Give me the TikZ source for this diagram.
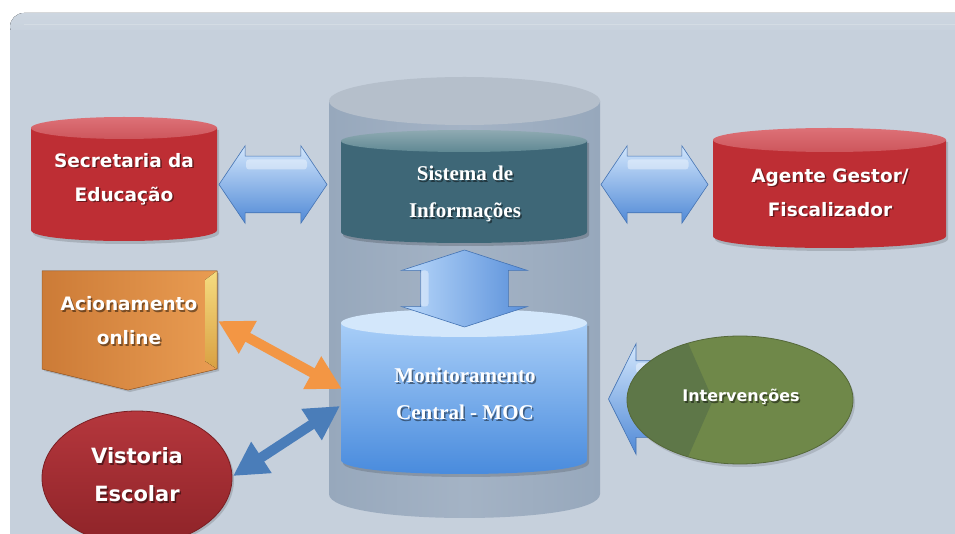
\documentclass[tikz,border=0pt]{standalone}
\usepackage{fontspec}
\newfontfamily\vfont{DejaVu Sans}
\newfontfamily\tfont{Liberation Serif}
\usetikzlibrary{shapes.arrows,arrows.meta,calc}
\definecolor{bgc}{HTML}{C6D0DC}
\definecolor{bgtop}{HTML}{CDD6E0}
\definecolor{bigbody}{HTML}{A4B3C5}
\definecolor{bigside}{HTML}{97A8BC}
\definecolor{bigtop}{HTML}{B5BFCB}
\definecolor{tealbody}{HTML}{3E6777}
\definecolor{tealtopA}{HTML}{8FAAB2}
\definecolor{tealtopB}{HTML}{5F8893}
\definecolor{redbody}{HTML}{BE2E34}
\definecolor{redtopA}{HTML}{DD7177}
\definecolor{redtopB}{HTML}{CD565C}
\definecolor{moctop}{HTML}{D3E7FB}
\definecolor{mocA}{HTML}{A8CEF8}
\definecolor{mocB}{HTML}{4689DC}
\definecolor{arrA}{HTML}{D2E6FC}
\definecolor{arrB}{HTML}{5089D6}
\definecolor{arrVL}{HTML}{B9D8FA}
\definecolor{arrVR}{HTML}{5A90DA}
\definecolor{arrline}{HTML}{4473B3}
\definecolor{oraA}{HTML}{CC7B37}
\definecolor{oraB}{HTML}{E99C52}
\definecolor{bevA}{HTML}{F5DC80}
\definecolor{bevB}{HTML}{D9A042}
\definecolor{visA}{HTML}{B5373D}
\definecolor{visB}{HTML}{8E2328}
\definecolor{visline}{HTML}{7A1E22}
\definecolor{grnL}{HTML}{6F8849}
\definecolor{grnD}{HTML}{5E7748}
\definecolor{grnline}{HTML}{55683A}
\definecolor{orarrow}{HTML}{F39644}
\definecolor{bluarrow}{HTML}{4A7DB9}
\newcommand\mycyl[7]{%
  \path[#6] (#1,#3) -- (#1,#4) .. controls (#1,#4+1.333*#5) and (#2,#4+1.333*#5) .. (#2,#4) -- (#2,#3) -- cycle;
  \path[#7] ({(#1+#2)/2},#3) ellipse [x radius={(#2-#1)/2}, y radius=#5];
}
\newcommand\shlabel[5]{%
  \node[#4, text=black, opacity=.45] (#1-sh) at (#2+1.5,#3+1.5) {#5};
  \node[#4, text=white] (#1) at (#2,#3) {#5};
}
\tikzset{
  sansA/.style={align=center, inner sep=0pt, font=\vfont\bfseries\fontsize{18.5}{34}\selectfont},
  sansV/.style={align=center, inner sep=0pt, font=\vfont\bfseries\fontsize{21}{38}\selectfont},
  sansI/.style={align=center, inner sep=0pt, font=\vfont\bfseries\fontsize{16}{20}\selectfont},
  serifA/.style={align=center, inner sep=0pt, font=\tfont\bfseries\fontsize{21}{37}\selectfont},
  fatarrow/.style={top color=arrA, bottom color=arrB, draw=arrline, line width=0.6pt, inner xsep=0pt},
  hilite/.style={fill=white, opacity=.4, rounded corners=3pt},
  thinarrow/.style={line width=10pt, {Triangle[length=34pt,width=35pt]}-{Triangle[length=34pt,width=35pt]}},
}
\begin{document}
\begin{tikzpicture}[x=1pt,y=-1pt]
\clip (0,0) rectangle (955,534);
\fill[white] (0,0) rectangle (955,534);
\fill[bgc, rounded corners=14pt] (10,13) rectangle (985,600);
\fill[top color=bgtop, bottom color=bgc, rounded corners=14pt] (10,13) rectangle (985,40);
\fill[bgc] (10,30) rectangle (985,60);
\draw[white, opacity=.2, line width=0.6pt] (24,24) -- (955,24);
% big translucent cylinder
\mycyl{329}{600}{101}{494}{24}{left color=bigside, right color=bigside, middle color=bigbody}{fill=bigtop}
% Sistema de Informacoes cylinder
\mycyl{343}{589}{143}{235}{11}{fill=black, opacity=.18}{fill=none}
\mycyl{341}{587}{141}{232}{11}{fill=tealbody}{top color=tealtopA, bottom color=tealtopB}
% MOC cylinder
\mycyl{343}{589}{326}{463}{14}{fill=black, opacity=.15}{fill=none}
\mycyl{341}{587}{323}{460}{14}{top color=mocA, bottom color=mocB}{fill=moctop}
% red cylinders
\mycyl{33}{219}{130}{233}{11}{fill=black, opacity=.15}{fill=none}
\mycyl{31}{217}{128}{230}{11}{fill=redbody}{top color=redtopA, bottom color=redtopB}
\mycyl{715}{948}{142}{239}{12}{fill=black, opacity=.15}{fill=none}
\mycyl{713}{946}{140}{236}{12}{fill=redbody}{top color=redtopA, bottom color=redtopB}
% Acionamento pentagon
\fill[black, opacity=.15] (44,273) -- (219,273) -- (219,371) -- (130,392) -- (44,371) -- cycle;
\fill[left color=oraA, right color=oraB] (42,271) -- (217,271) -- (217,369) -- (128,390) -- (42,369) -- cycle;
\fill[top color=bevA, bottom color=bevB] (205,280) -- (217,271) -- (217,369) -- (205,361) -- cycle;
\draw[oraA!80!black, line width=0.5pt] (42,271) -- (217,271) -- (217,369) -- (128,390) -- (42,369) -- cycle;
% Vistoria ellipse
\fill[black, opacity=.15] (139,480) ellipse [x radius=95, y radius=67];
\shade[top color=visA, bottom color=visB, draw=visline, line width=0.8pt] (137,478) ellipse [x radius=95, y radius=67];
% fat arrows
\node[fatarrow, double arrow, minimum height=108pt, inner ysep=28pt, double arrow head extend=10.5pt, double arrow tip angle=112] (arrL) at (273,184.5) {};
\node[fatarrow, double arrow, minimum height=107pt, inner ysep=28pt, double arrow head extend=10.5pt, double arrow tip angle=112] (arrR) at (654.5,184.5) {};
\node[draw=arrline, line width=0.6pt, inner xsep=0pt, left color=arrVL, right color=arrVR, double arrow, rotate=90, minimum height=77pt, inner ysep=43.5pt, double arrow head extend=19pt, double arrow tip angle=144] (arrV) at (464.5,288.5) {};
\node[top color=arrA, bottom color=arrB, draw=arrline, line width=0.6pt, inner xsep=0pt, inner ysep=38pt, single arrow, rotate=180, minimum height=100pt, single arrow head extend=17pt, single arrow tip angle=127] (arrI) at (668,399) {};
% highlights on the fat arrows
\fill[hilite] ($(arrL.center)+(-27,-25)$) rectangle ($(arrL.center)+(34,-15)$);
\fill[hilite] ($(arrR.center)+(-27,-25)$) rectangle ($(arrR.center)+(34,-15)$);
\fill[hilite] ($(arrV.center)+(-44,-18)$) rectangle ($(arrV.center)+(-36,18)$);
\fill[hilite] ($(arrI.center)+(-32,-36)$) rectangle ($(arrI.center)+(-5,-26)$);
% Intervencoes ellipse
\fill[black, opacity=.12] (742,403) ellipse [x radius=113, y radius=64];
\fill[grnL] (740,400) ellipse [x radius=113, y radius=64];
\begin{scope}
  \clip (740,400) ellipse [x radius=113, y radius=64];
  \fill[grnD] (600,300) -- (688,300) -- (688,343) -- (713,400) -- (688,457) -- (688,500) -- (600,500) -- cycle;
\end{scope}
\draw[grnline, line width=0.8pt] (740,400) ellipse [x radius=113, y radius=64];
% labels
\shlabel{sec}{124}{179}{sansA}{Secretaria da\\Educação}
\shlabel{age}{830}{192.5}{sansA}{Agente Gestor/\\Fiscalizador}
\shlabel{aci}{129}{321}{sansA}{Acionamento\\online}
\shlabel{vis}{137}{475}{sansV}{Vistoria\\Escolar}
\shlabel{sis}{465}{194}{serifA}{Sistema de\\Informações}
\shlabel{moc}{465}{394}{serifA}{Monitoramento\\Central - MOC}
\shlabel{int}{741}{397}{sansI}{Intervenções}
% thin double arrows
\coordinate (aciEnd) at (218,321);
\coordinate (mocA) at (342,389);
\coordinate (visEnd) at (233,476);
\coordinate (mocB) at (340,406);
\draw[thinarrow, orarrow] (aciEnd) -- (mocA);
\draw[thinarrow, bluarrow] (visEnd) -- (mocB);
\end{tikzpicture}
\end{document}
